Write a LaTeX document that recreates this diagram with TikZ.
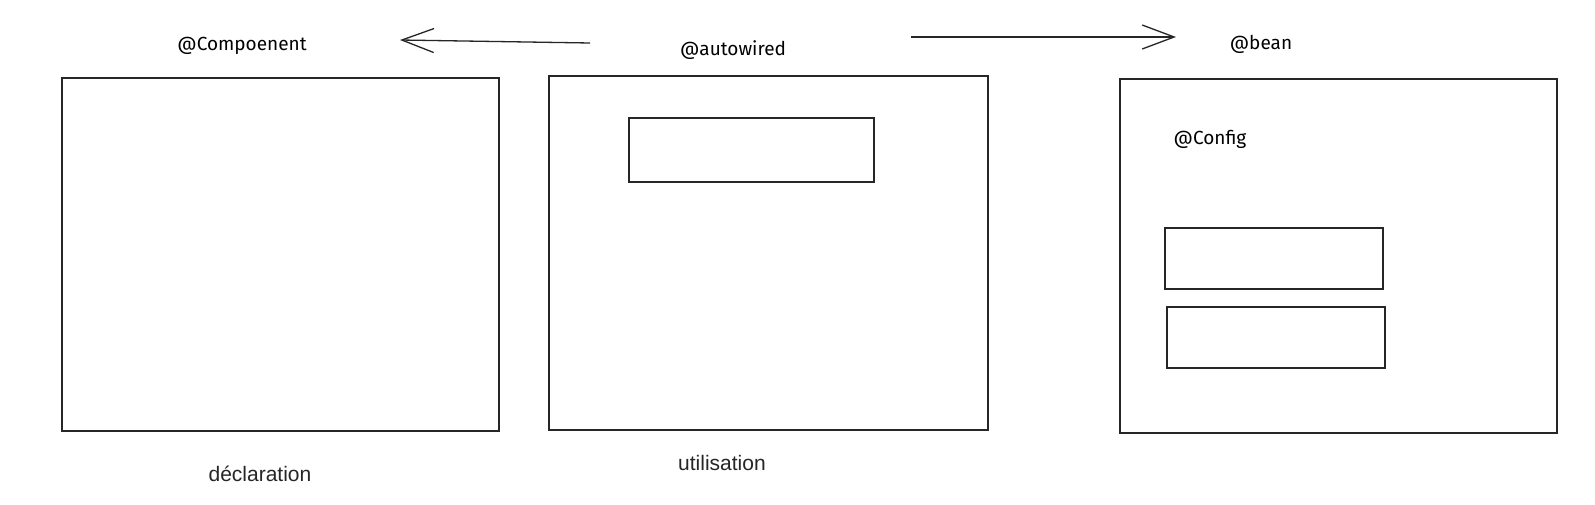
\documentclass[tikz,border=0pt]{standalone}
\usepackage{fontspec}
\setmainfont{Liberation Sans}
\newfontfamily\handfont{Fira Sans}
\usetikzlibrary{arrows.meta}
\begin{document}
\begin{tikzpicture}[x=1pt,y=-1pt,
  sketchbox/.style={draw=black!85,line width=1.3pt,inner sep=0pt,anchor=center},
  handlabel/.style={font=\handfont\fontsize{19}{22}\selectfont,inner sep=0pt,anchor=center},
  plainlabel/.style={font=\fontsize{21}{25}\selectfont,text=black!85,inner sep=0pt,anchor=center},
  sketcharrow/.style={draw=black!85,line width=1.3pt,-{Straight Barb[length=32pt,width=24pt,line width=1.3pt]}}]
\useasboundingbox[fill=white] (0,0) rectangle (1595,505);
% main boxes
\node[sketchbox,minimum width=437pt,minimum height=353pt] (decl) at (280.5,254.5) {};
\node[sketchbox,minimum width=439pt,minimum height=354pt] (util) at (768.5,253) {};
\node[sketchbox,minimum width=437pt,minimum height=354pt] (conf) at (1338.5,256) {};
% inner boxes
\node[sketchbox,minimum width=245pt,minimum height=64pt] (field) at (751.5,150) {};
\node[sketchbox,minimum width=218pt,minimum height=61pt] (beanA) at (1274,258.5) {};
\node[sketchbox,minimum width=218pt,minimum height=61pt] (beanB) at (1276,337.5) {};
% labels
\node[handlabel] (lcomp) at (242,46) {@Compoenent};
\node[handlabel] (lauto) at (733,50) {@autowired};
\node[handlabel] (lbean) at (1261,44) {@bean};
\node[handlabel] (lcfg) at (1210,139) {@Config};
\node[plainlabel] (ldecl) at (260,474) {déclaration};
\node[plainlabel] (lutil) at (722,463) {utilisation};
% arrows
\coordinate (a1s) at (590,43);
\coordinate (a1e) at (400,40);
\coordinate (a2s) at (911,37);
\coordinate (a2e) at (1176,37);
\draw[sketcharrow] (a1s) -- (a1e);
\draw[sketcharrow] (a2s) -- (a2e);
\end{tikzpicture}
\end{document}
